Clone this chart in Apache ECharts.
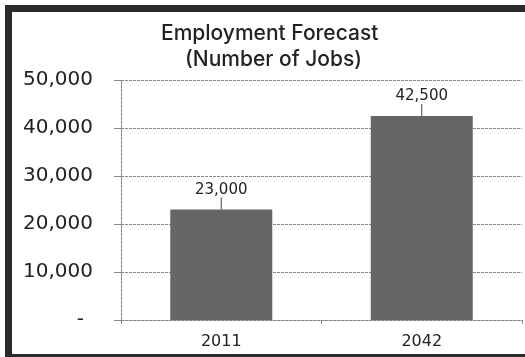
<!DOCTYPE html>
<html>
<head>
<meta charset="utf-8">
<script src="https://cdn.jsdelivr.net/npm/echarts@6/dist/echarts.min.js"></script>
<style>
html,body{margin:0;padding:0;background:#fff;overflow:hidden;}
#chart{width:525px;height:357px;}
</style>
</head>
<body>
<div id="chart"></div>
<script>
var categories = ['2011', '2042'];
var jobs = [23000, 42500];
var yTicks = [0, 10000, 20000, 30000, 40000, 50000];
var titleLines = ['Employment Forecast', '(Number of Jobs)'];

var FONT = 'DejaVu Sans';
function fmt(v) { return v.toString().replace(/\B(?=(\d{3})+(?!\d))/g, ','); }

var chart = echarts.init(document.getElementById('chart'), null, {renderer: 'canvas'});
chart.setOption({
  animation: false,
  backgroundColor: '#fff',
  grid: {left: 121, right: 3, top: 80, bottom: 37, containLabel: false},
  xAxis: {
    type: 'category',
    data: categories,
    boundaryGap: true,
    axisLine: {show: true, lineStyle: {color: '#888', width: 1, type: [3, 1]}},
    axisTick: {show: true, length: 4, alignWithLabel: false, lineStyle: {color: '#888'}},
    axisLabel: {fontFamily: FONT, fontSize: 16, color: '#222', margin: 14}
  },
  yAxis: {
    type: 'value',
    min: yTicks[0],
    max: yTicks[yTicks.length - 1],
    interval: yTicks[1] - yTicks[0],
    axisLine: {show: true, lineStyle: {color: '#888', width: 1, type: [3, 1]}},
    axisTick: {show: true, length: 7, lineStyle: {color: '#888'}},
    splitLine: {show: true, lineStyle: {color: '#888', width: 1, type: [3, 1]}},
    axisLabel: {
      fontFamily: FONT, fontSize: 20, color: '#222', margin: 28,
      formatter: function (v) { return v === 0 ? '{d|-}' : fmt(v); },
      rich: {d: {fontFamily: FONT, fontSize: 20, color: '#222', padding: [0, 9, 0, 0]}}
    }
  },
  series: [{
    type: 'bar',
    data: jobs,
    barWidth: 102,
    itemStyle: {color: '#666666'},
    label: {
      show: true,
      position: 'top',
      distance: 0,
      formatter: function (p) { return '{v|' + fmt(p.value) + '}\n{l| }'; },
      rich: {
        v: {fontFamily: FONT, fontSize: 15, color: '#222', lineHeight: 15, align: 'center'},
        l: {width: 1, height: 12, lineHeight: 12, backgroundColor: '#444', align: 'center', fontSize: 1}
      }
    }
  }],
  graphic: [
    {type: 'rect', shape: {x: 5, y: 5, width: 7, height: 352}, style: {fill: '#2b2b2b'}, silent: true},
    {type: 'rect', shape: {x: 5, y: 5, width: 520, height: 7}, style: {fill: '#2b2b2b'}, silent: true},
    {type: 'rect', shape: {x: 5, y: 354, width: 520, height: 3}, style: {fill: '#2b2b2b'}, silent: true},
    {type: 'text', left: 161, top: 23, style: {text: titleLines[0], font: '500 21px Inter', fill: '#222'}},
    {type: 'text', left: 185, top: 49, style: {text: titleLines[1], font: '500 21px Inter', fill: '#222'}}
  ]
});
</script>
</body>
</html>
